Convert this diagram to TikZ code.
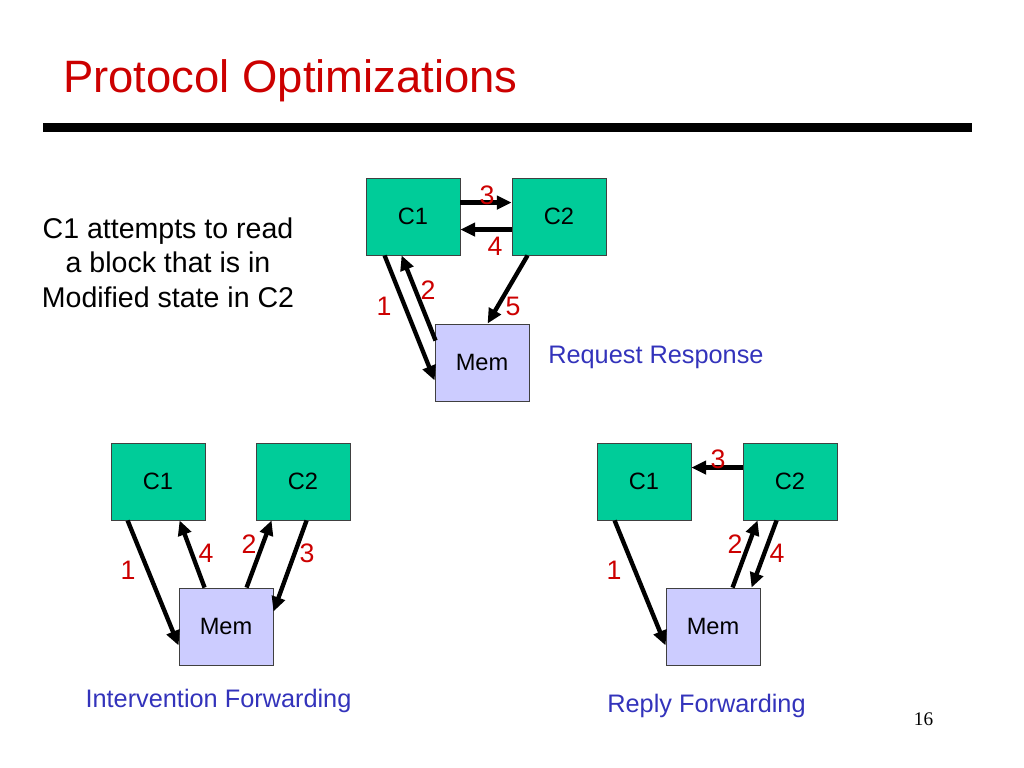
\documentclass[tikz,border=0pt]{standalone}
\usepackage{fontspec}
\setmainfont{Liberation Sans}
\newfontfamily\pagefont{Liberation Serif}
\usetikzlibrary{arrows.meta,calc}
\definecolor{cachegreen}{RGB}{0,204,153}
\definecolor{memblue}{RGB}{204,204,255}
\definecolor{titlered}{RGB}{204,0,0}
\definecolor{labelblue}{RGB}{51,51,187}
\tikzset{
  cache/.style={draw=black!75,line width=0.6pt,fill=cachegreen,minimum width=2.35cm,minimum height=1.925cm,inner sep=0pt,font=\fontsize{16.8}{20}\selectfont},
  memory/.style={cache,fill=memblue},
  msg/.style={line width=3.1pt,-{Triangle[length=10.5pt,width=9.5pt]}},
  num/.style={text=titlered,inner sep=0pt,font=\fontsize{19}{22}\selectfont},
  scheme/.style={text=labelblue,inner sep=0pt,font=\fontsize{18}{21}\selectfont}
}
\begin{document}
\begin{tikzpicture}[x=0.025cm,y=-0.025cm]
\useasboundingbox (0,0) rectangle (1024,768);
\draw (63,93) node[anchor=base west,inner sep=0pt,text=titlered,font=\fontsize{32.3}{38}\selectfont](title) {Protocol Optimizations};
\draw[line width=6.4pt] (43,127.5) -- (972,127.5);
\draw (168,218) node[anchor=north,inner sep=0pt,align=center,font=\fontsize{20.3}{24.2}\selectfont](case) {C1 attempts to read\\a block that is in\\Modified state in C2};
% request response
\draw (413,216.5) node[cache](rc1) {C1};
\draw (559,216.5) node[cache](rc2) {C2};
\draw (482,362.5) node[memory](rmem) {Mem};
\draw[msg] ($(rc1.north east)+(0,25)$) -- ($(rc2.north west)+(0,25)$);
\draw[msg] ($(rc2.north west)+(0,52)$) -- ($(rc1.north east)+(0,52)$);
\draw[msg] ($(rc1.south west)+(19,0)$) -- ($(rmem.south west)+(0,-21)$);
\draw[msg] ($(rmem.north west)+(1,17)$) -- ($(rc1.south west)+(36,0)$);
\draw[msg] ($(rc2.south west)+(16,0)$) -- ($(rmem.north west)+(53,0)$);
\draw (487,195) node[num](r3) {3};
\draw (495,246) node[num](r4) {4};
\draw (428,290) node[num](r2) {2};
\draw (384,306) node[num](r1) {1};
\draw (513,306) node[num](r5) {5};
\draw (548,363) node[scheme,anchor=base west](rname) {Request Response};
% intervention forwarding
\draw (158,481.5) node[cache](ic1) {C1};
\draw (303,481.5) node[cache](ic2) {C2};
\draw (226,626.5) node[memory](imem) {Mem};
\draw[msg] ($(ic1.south west)+(17,0)$) -- ($(imem.south west)+(0,-20)$);
\draw[msg] ($(imem.north west)+(26,0)$) -- ($(ic1.south west)+(69,0)$);
\draw[msg] ($(imem.north west)+(68,0)$) -- ($(ic2.south west)+(16,0)$);
\draw[msg] ($(ic2.south west)+(51,0)$) -- ($(imem.north east)+(0,24)$);
\draw (128,570) node[num](i1) {1};
\draw (206,553) node[num](i4) {4};
\draw (249,544) node[num](i2) {2};
\draw (307,553) node[num](i3) {3};
\draw (218.5,707) node[scheme,anchor=base](iname) {Intervention Forwarding};
% reply forwarding
\draw (644,481.5) node[cache](fc1) {C1};
\draw (790,481.5) node[cache](fc2) {C2};
\draw (713,626.5) node[memory](fmem) {Mem};
\draw[msg] ($(fc2.north west)+(0,25)$) -- ($(fc1.north east)+(0,25)$);
\draw[msg] ($(fc1.south west)+(18,0)$) -- ($(fmem.south west)+(0,-20)$);
\draw[msg] ($(fmem.north west)+(67,0)$) -- ($(fc2.south west)+(15,0)$);
\draw[msg] ($(fc2.south west)+(34,0)$) -- ($(fmem.north west)+(86,0)$);
\draw (718,459) node[num](f3) {3};
\draw (735,544) node[num](f2) {2};
\draw (777,553) node[num](f4) {4};
\draw (614,570) node[num](f1) {1};
\draw (706.5,712) node[scheme,anchor=base](fname) {Reply Forwarding};
\draw (923.5,725) node[anchor=base,inner sep=0pt,font=\pagefont\fontsize{13.7}{16}\selectfont](page) {16};
\end{tikzpicture}
\end{document}
